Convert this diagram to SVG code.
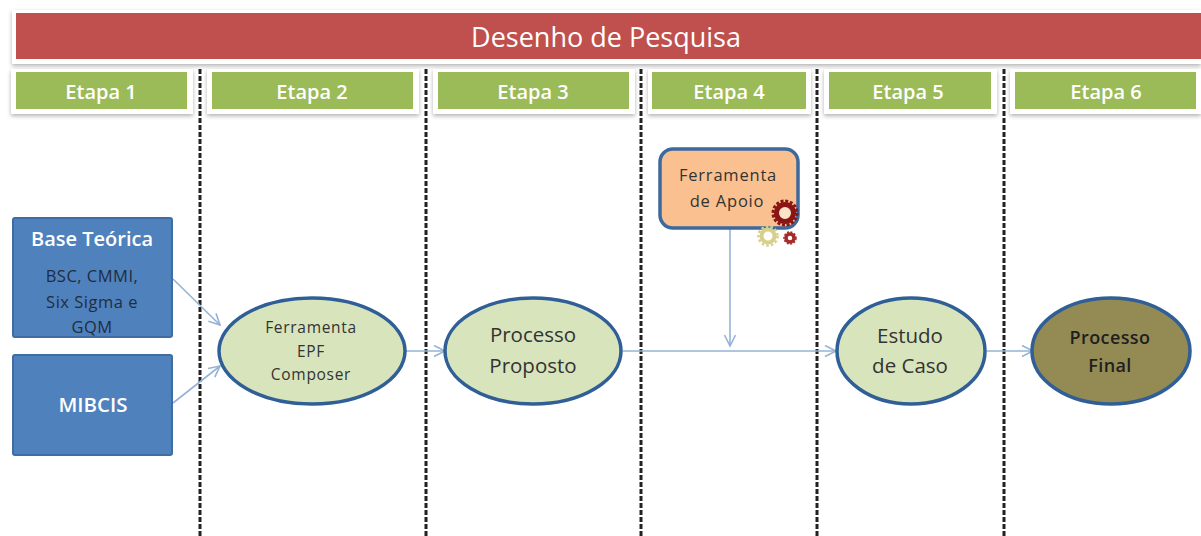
<svg xmlns="http://www.w3.org/2000/svg" width="1201" height="536" viewBox="0 0 1201 536">
<style>
text{font-family:"Open Sans","Noto Sans","Liberation Sans",sans-serif;text-anchor:middle}
.band{fill:#fff;filter:url(#sh)}
.et{fill:#9bbb59}
.et-t{fill:#fff;font-size:20px;font-weight:600}
.div{stroke:#222;stroke-width:3;stroke-dasharray:5 2;fill:none}
.blue{fill:#4f81bd;stroke:#3f6da3;stroke-width:2}
.ell{fill:#d8e4bc;stroke:#2f5f96;stroke-width:3.5}
.dk{fill:#333}
.sm{font-size:15.5px;letter-spacing:.7px}
.con{stroke:#95b3d7;stroke-width:1.6;fill:none;marker-end:url(#arr)}
</style>
<defs>
<filter id="sh" x="-5%" y="-20%" width="110%" height="140%"><feDropShadow dx="0" dy="2" stdDeviation="2" flood-color="#000" flood-opacity=".3"/></filter>
<marker id="arr" markerWidth="14" markerHeight="14" refX="12" refY="6" orient="auto" markerUnits="userSpaceOnUse"><path d="M1 0.5L12 6L1 11.5" fill="none" stroke="#95b3d7" stroke-width="1.6"/></marker>
</defs>
<rect width="1201" height="536" fill="#fff"/>
<g id="dividers">
<path class="div" d="M200 69V536"/><path class="div" d="M426 69V536"/><path class="div" d="M641 69V536"/><path class="div" d="M817 69V536"/><path class="div" d="M1004 69V536"/>
</g>
<g id="titulo"><rect class="band" x="12" y="10" width="1189" height="54"/><rect x="16" y="13" width="1185" height="46" fill="#c0504d"/><text x="606" y="47" fill="#fff" font-size="27">Desenho de Pesquisa</text></g>
<g id="etapa1"><rect class="band" x="11" y="69" width="182" height="45"/><rect class="et" x="16" y="72" width="171" height="37"/><text class="et-t" x="101" y="99">Etapa 1</text></g>
<g id="etapa2"><rect class="band" x="207" y="69" width="212" height="45"/><rect class="et" x="212" y="72" width="201" height="37"/><text class="et-t" x="312" y="99">Etapa 2</text></g>
<g id="etapa3"><rect class="band" x="433" y="69" width="202" height="45"/><rect class="et" x="438" y="72" width="191" height="37"/><text class="et-t" x="533" y="99">Etapa 3</text></g>
<g id="etapa4"><rect class="band" x="648" y="69" width="163" height="45"/><rect class="et" x="652" y="72" width="154" height="37"/><text class="et-t" x="729" y="99">Etapa 4</text></g>
<g id="etapa5"><rect class="band" x="824" y="69" width="173" height="45"/><rect class="et" x="829" y="72" width="162" height="37"/><text class="et-t" x="908" y="99">Etapa 5</text></g>
<g id="etapa6"><rect class="band" x="1010" y="69" width="191" height="45"/><rect class="et" x="1015" y="72" width="181" height="37"/><text class="et-t" x="1106" y="99">Etapa 6</text></g>
<g id="connectors">
<path class="con" d="M173 279L220 325"/>
<path class="con" d="M173 403L220 366"/>
<path class="con" d="M406 351H445"/>
<path class="con" d="M623 351H836"/>
<path class="con" d="M730 229V346"/>
<path class="con" d="M987 351H1033"/>
</g>
<g id="base-teorica"><rect class="blue" x="13" y="218" width="159" height="119" rx="2"/><text x="92" y="246" fill="#fff" font-size="20" font-weight="600">Base Teórica</text><text x="92" y="282" font-size="16.5" letter-spacing=".5" fill="#1f2d40">BSC, CMMI,</text><text x="92" y="308" font-size="16.5" letter-spacing=".5" fill="#1f2d40">Six Sigma e</text><text x="92" y="333" font-size="16.5" letter-spacing=".5" fill="#1f2d40">GQM</text></g>
<g id="mibcis"><rect class="blue" x="13" y="355" width="159" height="100" rx="2"/><text x="93" y="412" fill="#fff" font-size="20.5" font-weight="600">MIBCIS</text></g>
<g id="ferramenta-epf"><ellipse class="ell" cx="312" cy="351" rx="93" ry="53"/><text class="dk sm" x="311" y="333">Ferramenta</text><text class="dk sm" x="311" y="357">EPF</text><text class="dk sm" x="311" y="380">Composer</text></g>
<g id="processo-proposto"><ellipse class="ell" cx="533" cy="351" rx="88" ry="53"/><text class="dk" x="533" y="342" font-size="20.5">Processo</text><text class="dk" x="533" y="373" font-size="20.5">Proposto</text></g>
<g id="ferramenta-apoio"><rect x="660" y="149" width="138" height="79" rx="13" fill="#fac090" stroke="#3c6a9e" stroke-width="3.5"/><text x="728" y="181" font-size="16.5" letter-spacing=".8" fill="#333">Ferramenta</text><text x="727" y="207" font-size="16.5" letter-spacing=".8" fill="#333">de Apoio</text>
<circle cx="785" cy="213" r="8.5" fill="#fbe3c8" stroke="#8b1414" stroke-width="5"/><circle cx="785" cy="213" r="12" fill="none" stroke="#8b1414" stroke-width="3" stroke-dasharray="3 1.7"/>
<circle cx="768" cy="236" r="6.5" fill="none" stroke="#d6d08a" stroke-width="4"/><circle cx="768" cy="236" r="9.5" fill="none" stroke="#d6d08a" stroke-width="2.5" stroke-dasharray="2.5 2.2"/>
<circle cx="790" cy="238" r="4" fill="none" stroke="#a52a2a" stroke-width="3.5"/><circle cx="790" cy="238" r="6" fill="none" stroke="#a52a2a" stroke-width="1.5" stroke-dasharray="2 1.5"/></g>
<g id="estudo-caso"><ellipse class="ell" cx="911" cy="351" rx="74" ry="53"/><text class="dk" x="910" y="343" font-size="20.5">Estudo</text><text class="dk" x="910" y="373" font-size="20.5">de Caso</text></g>
<g id="processo-final"><ellipse cx="1111" cy="351" rx="79" ry="53" fill="#948a54" stroke="#2f5f96" stroke-width="3.5"/><text x="1110" y="344" font-size="18" font-weight="600" letter-spacing=".4" fill="#1f1f1f">Processo</text><text x="1110" y="372" font-size="18" font-weight="600" letter-spacing=".4" fill="#1f1f1f">Final</text></g>
</svg>
